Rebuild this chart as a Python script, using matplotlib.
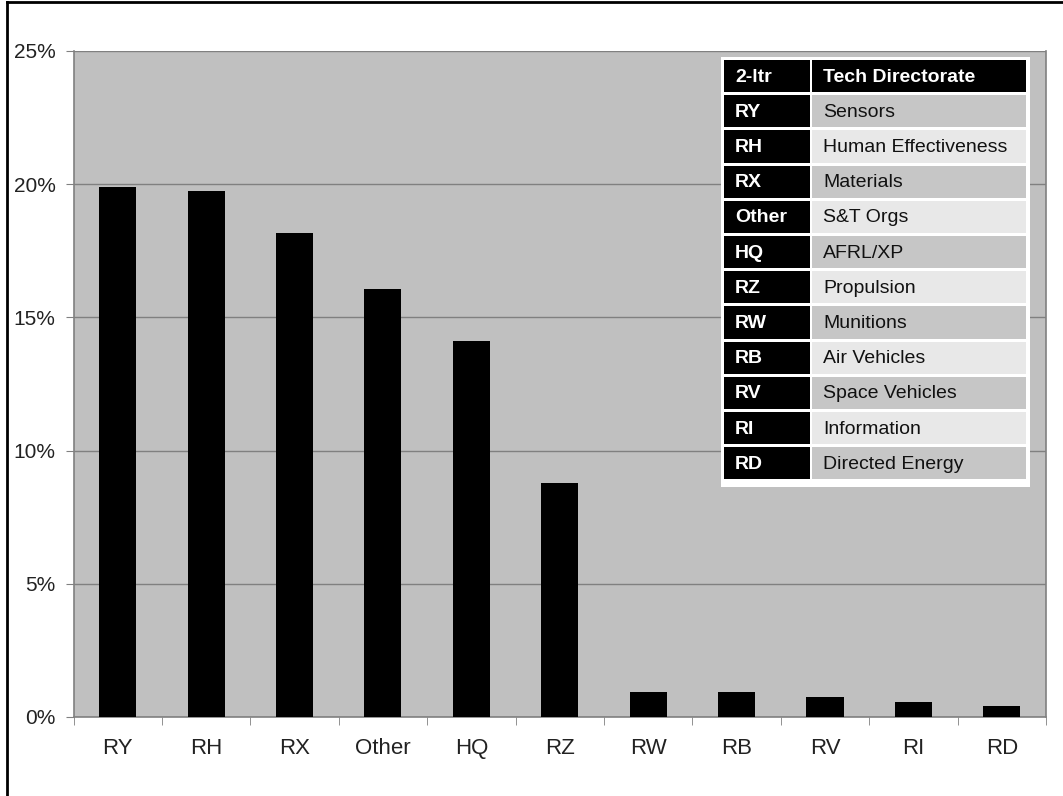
import matplotlib
matplotlib.use("Agg")
import matplotlib.pyplot as plt
from matplotlib.patches import Rectangle
from matplotlib.lines import Line2D
from matplotlib.ticker import FuncFormatter, MultipleLocator, FixedLocator

plt.rcParams['font.family'] = ['Liberation Sans', 'DejaVu Sans']

categories = ["RY", "RH", "RX", "Other", "HQ", "RZ", "RW", "RB", "RV", "RI", "RD"]
values = [19.9, 19.75, 18.15, 16.05, 14.1, 8.8, 0.93, 0.93, 0.75, 0.57, 0.4]
directorates = ["Sensors", "Human Effectiveness", "Materials", "S&T Orgs", "AFRL/XP",
                "Propulsion", "Munitions", "Air Vehicles", "Space Vehicles",
                "Information", "Directed Energy"]
header = ["2-ltr", "Tech Directorate"]

W, H = 1063, 796
fig = plt.figure(figsize=(W / 100, H / 100), dpi=100)
fig.patch.set_facecolor('white')

# figure frame (left and top)
fig.add_artist(Line2D([7 / W, 7 / W], [0, 1 - 1.5 / H], transform=fig.transFigure,
                      color='black', lw=2))
fig.add_artist(Line2D([7 / W, 1], [1 - 1.5 / H, 1 - 1.5 / H], transform=fig.transFigure,
                      color='black', lw=2))

ax = fig.add_axes([73.5 / W, 1 - 717 / H, (1046 - 73.5) / W, (717 - 51) / H])
ax.set_facecolor('#c0c0c0')
x = list(range(len(categories)))
ax.bar(x, values, width=0.42, color='black', zorder=3)
ax.set_xlim(-0.5, len(categories) - 0.5)
ax.set_ylim(0, 25)
ax.yaxis.set_major_locator(MultipleLocator(5))
ax.yaxis.set_major_formatter(FuncFormatter(lambda v, p: f"{v:.0f}%"))
ax.grid(axis='y', color='#808080', lw=1, zorder=1)
ax.set_xticks(x)
ax.set_xticklabels(categories)
ax.xaxis.set_minor_locator(FixedLocator([i - 0.5 for i in range(len(categories) + 1)]))
ax.tick_params(axis='x', which='major', length=0, pad=15, labelsize=16, colors='#222222')
ax.tick_params(axis='x', which='minor', length=6, color='#808080', direction='out')
ax.tick_params(axis='y', length=6, color='#808080', direction='out', labelsize=15,
               labelcolor='#222222', pad=7)
for s in ['left', 'bottom', 'right']:
    ax.spines[s].set_color('#808080')
    ax.spines[s].set_linewidth(1.2)
ax.spines['top'].set_visible(False)

# table drawn in figure pixel coordinates
def rect(x0, y0, x1, y1, color):
    fig.add_artist(Rectangle((x0 / W, 1 - y1 / H), (x1 - x0) / W, (y1 - y0) / H,
                             transform=fig.transFigure, facecolor=color, edgecolor='none',
                             zorder=5))

def txt(xp, yp, s, color, bold=False):
    fig.text(xp / W, 1 - yp / H, s, color=color, fontsize=14,
             fontweight='bold' if bold else 'normal', va='center', ha='left', zorder=6)

rect(721, 57, 1030, 487, 'white')
top = 60
rowh = 35.2
c1 = (724, 810)
c2 = (812, 1026)
rows = [header] + [[c, d] for c, d in zip(categories, directorates)]
for i, (a, b) in enumerate(rows):
    y0 = top + i * rowh
    y1 = y0 + rowh - 3
    yc = (y0 + y1) / 2 + 1
    rect(c1[0], y0, c1[1], y1, 'black')
    txt(c1[0] + 11, yc, a, 'white', bold=True)
    if i == 0:
        rect(c2[0], y0, c2[1], y1, 'black')
        txt(c2[0] + 11, yc, b, 'white', bold=True)
    else:
        rect(c2[0], y0, c2[1], y1, '#c6c6c6' if i % 2 == 1 else '#e8e8e8')
        txt(c2[0] + 11, yc, b, '#111111')

fig.savefig('out.png', dpi=100)
